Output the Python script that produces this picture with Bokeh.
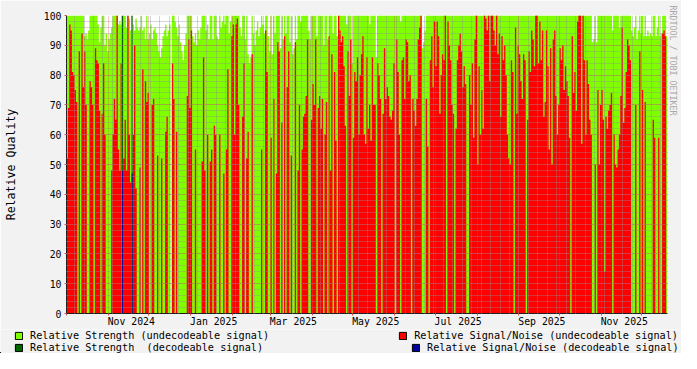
from datetime import date, timedelta
from bokeh.plotting import figure
from bokeh.layouts import column
from bokeh.models import Range1d, FixedTicker, Legend, LegendItem, Title
from bokeh.embed import file_html
from bokeh.resources import INLINE

START = date(2024, 10, 1)   # first day shown (left edge of the plot)
N_DAYS = 445

# ---- Relative Signal/Noise (undecodeable signal), one value per day ----
snr_oct_dec24 = [52, 69, 97, 95, 81, 80, 75, 71, 0, 88,
                 0, 94, 76, 88, 70, 0, 0, 78, 76, 70,
                 0, 89, 85, 84, 68, 0, 67, 84, 60, 0,
                 0, 0, 0, 48, 60, 72, 65, 100, 55, 48,
                 84, 0, 52, 65, 48, 100, 60, 44, 0, 60,
                 90, 42, 0, 0, 49, 0, 82, 0, 78, 71,
                 74, 0, 0, 70, 72, 0, 0, 53, 0, 0,
                 52, 0, 0, 61, 66]
snr_dec24_feb25 = [0, 0, 0, 84, 72, 0, 61, 0, 0, 0,
                   0, 0, 0, 0, 73, 92, 69, 95, 0, 0,
                   55, 0, 0, 0, 0, 51, 86, 48, 0, 60,
                   0, 51, 55, 0, 63, 60, 0, 0, 60, 0,
                   0, 47, 0, 55, 82, 0, 0, 93, 97, 60,
                   97, 99, 70, 0, 0, 66, 84, 0, 52, 61,
                   0, 0, 87, 0, 0, 0, 0, 0, 0, 55,
                   0, 0, 95, 81]
snr_feb_apr25 = [0, 0, 59, 0, 72, 0, 47, 91, 88, 0,
                 64, 0, 93, 0, 76, 88, 0, 53, 0, 0,
                 91, 0, 48, 70, 0, 55, 66, 67, 73, 92,
                 0, 0, 65, 77, 70, 92, 0, 69, 73, 62,
                 72, 0, 60, 71, 0, 93, 48, 87, 0, 81,
                 58, 0, 100, 95, 91, 93, 83, 63, 0, 88,
                 73, 92, 0, 59, 81, 78, 86, 60, 80, 87,
                 93, 60, 57, 86]
snr_apr_jun25 = [62, 70, 58, 86, 70, 70, 0, 84, 80, 72,
                 0, 67, 89, 72, 76, 73, 66, 65, 68, 84,
                 0, 92, 81, 60, 0, 85, 86, 72, 92, 91,
                 78, 80, 0, 72, 68, 63, 72, 92, 96, 100,
                 0, 0, 0, 72, 56, 0, 85, 93, 76, 98,
                 83, 98, 93, 67, 80, 87, 85, 100, 0, 98,
                 90, 85, 70, 67, 0, 62, 85, 90, 94, 88,
                 76, 83, 77, 0]
snr_jul_sep25 = [0, 80, 70, 84, 59, 92, 100, 50, 83, 60,
                 75, 62, 100, 99, 95, 100, 78, 100, 100, 95,
                 90, 100, 87, 94, 66, 93, 85, 90, 80, 60,
                 52, 50, 85, 81, 0, 96, 67, 90, 87, 78,
                 72, 87, 85, 0, 65, 88, 81, 95, 92, 83,
                 100, 100, 84, 98, 85, 95, 66, 71, 95, 83,
                 55, 89, 50, 92, 95, 73, 60, 70, 89, 85,
                 90, 75, 83, 78]
snr_sep_dec25 = [73, 59, 0, 93, 74, 81, 68, 98, 100, 100,
                 57, 100, 85, 60, 85, 77, 65, 60, 0, 0,
                 50, 0, 75, 50, 70, 75, 65, 14, 66, 62,
                 68, 70, 74, 0, 60, 50, 49, 55, 60, 73,
                 96, 64, 69, 81, 92, 90, 85, 0, 0, 0,
                 70, 0, 0, 88, 0, 75, 0, 71, 0, 0,
                 0, 0, 0, 65, 59, 0, 0, 59, 0, 0,
                 94, 95, 93, 0]

# ---- Relative Strength (undecodeable signal), one value per day ----
str_oct_dec24 = [100, 100, 100, 100, 100, 100, 100, 100, 100, 100,
                 100, 100, 100, 93, 94, 92, 95, 100, 100, 100,
                 100, 100, 100, 97, 91, 96, 100, 100, 90, 94,
                 88, 92, 94, 96, 100, 100, 100, 100, 97, 98,
                 97, 0, 100, 100, 96, 100, 99, 95, 0, 97,
                 95, 99, 96, 95, 96, 100, 95, 96, 92, 100,
                 92, 94, 97, 92, 95, 96, 94, 90, 88, 86,
                 89, 93, 95, 97, 93]
str_dec24_feb25 = [95, 97, 0, 100, 100, 98, 96, 93, 97, 91,
                   88, 85, 90, 94, 100, 100, 100, 100, 93, 91,
                   94, 90, 95, 92, 96, 100, 100, 100, 95, 97,
                   92, 100, 100, 92, 100, 100, 93, 92, 100, 96,
                   98, 100, 97, 100, 100, 94, 98, 100, 100, 100,
                   100, 100, 100, 96, 93, 100, 100, 92, 100, 87,
                   84, 86, 100, 94, 90, 95, 98, 93, 96, 100,
                   97, 94, 100, 100]
str_feb_apr25 = [93, 88, 100, 87, 100, 94, 100, 100, 100, 89,
                 100, 92, 100, 94, 100, 100, 91, 100, 87, 89,
                 100, 92, 100, 100, 98, 100, 100, 100, 100, 100,
                 95, 92, 100, 100, 100, 100, 93, 100, 100, 100,
                 100, 90, 100, 100, 92, 100, 100, 100, 94, 100,
                 100, 93, 100, 100, 100, 100, 100, 100, 97, 100,
                 100, 100, 84, 100, 100, 100, 100, 100, 100, 100,
                 100, 100, 100, 100]
str_apr_jun25 = [100, 97, 100, 100, 100, 100, 86, 100, 100, 100,
                 100, 100, 100, 100, 100, 100, 100, 100, 100, 100,
                 100, 100, 100, 100, 98, 100, 100, 100, 100, 100,
                 100, 100, 100, 100, 100, 100, 100, 100, 100, 100,
                 89, 91, 95, 100, 100, 100, 100, 100, 100, 100,
                 100, 100, 100, 100, 100, 100, 100, 100, 100, 100,
                 100, 100, 100, 100, 100, 100, 100, 100, 100, 100,
                 100, 100, 100, 100]
str_jul_sep25 = [100, 100, 100, 100, 100, 100, 100, 100, 100, 100,
                 100, 100, 100, 100, 100, 100, 100, 100, 100, 100,
                 100, 100, 100, 100, 100, 100, 100, 100, 100, 100,
                 100, 100, 100, 100, 100, 100, 100, 100, 100, 100,
                 100, 100, 100, 100, 100, 100, 100, 100, 100, 100,
                 100, 100, 100, 100, 100, 100, 100, 100, 100, 100,
                 100, 100, 100, 100, 100, 100, 100, 100, 100, 100,
                 100, 100, 100, 100]
str_sep_dec25 = [100, 100, 100, 100, 100, 100, 100, 100, 100, 100,
                 100, 100, 100, 100, 100, 100, 100, 100, 91, 92,
                 100, 91, 100, 100, 100, 100, 100, 100, 100, 100,
                 100, 100, 100, 95, 100, 100, 100, 100, 96, 100,
                 100, 100, 100, 100, 100, 100, 100, 95, 93, 96,
                 100, 92, 95, 100, 94, 100, 93, 100, 93, 95,
                 93, 94, 93, 100, 100, 93, 96, 100, 93, 94,
                 100, 100, 100, 93]

# ---- decodeable signal (only a few days) ----
dec_strength_days = [41, 48]
dec_strength_vals = [100, 100]
dec_snr_days = [41, 48]
dec_snr_vals = [48, 47]

# tick labels
label_months = [(2024, 11), (2025, 1), (2025, 3), (2025, 5), (2025, 7), (2025, 9), (2025, 11)]

snr = (snr_oct_dec24 + snr_dec24_feb25 + snr_feb_apr25 +
       snr_apr_jun25 + snr_jul_sep25 + snr_sep_dec25)
strength = (str_oct_dec24 + str_dec24_feb25 + str_feb_apr25 +
            str_apr_jun25 + str_jul_sep25 + str_sep_dec25)


def day_of(dt):
    return (dt - START).days


month_starts = []
y, m = 2024, 10
while True:
    dd = day_of(date(y, m, 1))
    if dd > N_DAYS:
        break
    month_starts.append(dd)
    m += 1
    if m > 12:
        m, y = 1, y + 1
week_starts = []
dt = START
while day_of(dt) <= N_DAYS:
    if dt.weekday() == 0:
        week_starts.append(day_of(dt))
    dt += timedelta(days=1)

label_pos = [day_of(date(yy, mm, 1)) + 17 for yy, mm in label_months]
label_txt = {pos: date(yy, mm, 1).strftime("%b %Y") for pos, (yy, mm) in zip(label_pos, label_months)}

FONT = "DejaVu Sans Mono"
BG = "#f2f2f2"

p = figure(width=681, height=329, output_backend="svg", toolbar_location=None,
           x_range=Range1d(0, N_DAYS), y_range=Range1d(0, 100),
           min_border_left=66, min_border_right=14, min_border_top=15, min_border_bottom=14)
p.frame_align = False
p.background_fill_color = "white"
p.border_fill_color = BG
p.outline_line_color = None


def step_xy(vals):
    xx, yy = [], []
    for i, v in enumerate(vals):
        xx += [i, i + 1]
        yy += [v, v]
    return xx, yy


C_G, C_R, C_DG, C_B = "#80ff00", "#ff0000", "#006400", "#0000a0"
for vals, col in ((strength, C_G), (snr, C_R)):
    xx, yy = step_xy(vals)
    p.varea(x=xx, y1=0, y2=yy, fill_color=col)
# decodeable days
p.vbar(x=[d + 0.5 for d in dec_strength_days], top=dec_strength_vals, width=1,
       fill_color=C_DG, line_color=None)
p.vbar(x=[d + 0.5 for d in dec_snr_days], top=dec_snr_vals, width=1,
       fill_color=C_B, line_color=None)

p.xgrid.ticker = FixedTicker(ticks=month_starts, minor_ticks=week_starts)
p.ygrid.ticker = FixedTicker(ticks=list(range(0, 101, 10)), minor_ticks=list(range(0, 101, 2)))
for g in (p.xgrid, p.ygrid):
    g.level = "guide"
    g.grid_line_color = "#de4f4f"
    g.grid_line_alpha = 0.6
    g.grid_line_dash = "1 1"
    g.minor_grid_line_color = "#8f8f8f"
    g.minor_grid_line_alpha = 0.75
    g.minor_grid_line_dash = "1 1"

xa = p.xaxis[0]
xa.ticker = FixedTicker(ticks=label_pos, minor_ticks=month_starts)
xa.major_label_overrides = label_txt
xa.major_tick_in = 0
xa.major_tick_out = 0
xa.minor_tick_in = 0
xa.minor_tick_out = 2
xa.minor_tick_line_color = "#de4f4f"
xa.axis_line_color = "#1f1f1f"
xa.major_label_text_font = FONT
xa.major_label_text_font_size = "9.8px"
xa.major_label_text_color = "black"
xa.major_label_standoff = 0

ya = p.yaxis[0]
ya.ticker = FixedTicker(ticks=list(range(0, 101, 10)))
ya.major_tick_in = 0
ya.major_tick_out = 2
ya.major_tick_line_color = "#de4f4f"
ya.minor_tick_out = 0
ya.minor_tick_in = 0
ya.axis_line_color = "#1f1f1f"
ya.major_label_text_font = FONT
ya.major_label_text_font_size = "9.8px"
ya.major_label_text_color = "black"
ya.major_label_standoff = 3
ya.axis_label = "Relative Quality"
ya.axis_label_text_font = FONT
ya.axis_label_text_font_size = "11.6px"
ya.axis_label_text_font_style = "normal"
ya.axis_label_text_color = "black"
ya.axis_label_standoff = 23

p.add_layout(Title(text="RRDTOOL / TOBI OETIKER", align="left", standoff=0, offset=-10,
                   text_font=FONT, text_font_size="8.3px", text_font_style="normal",
                   text_color="#a8a8a8"), "right")

# ---- legend strip ----
q = figure(width=681, height=24, output_backend="svg", toolbar_location=None,
           x_range=Range1d(0, 681), y_range=Range1d(0, 24),
           x_axis_location=None, y_axis_location=None, min_border=0)
q.frame_align = False
q.background_fill_color = BG
q.border_fill_color = BG
q.outline_line_color = None
q.xgrid.visible = False
q.ygrid.visible = False


def proxy(color):
    # legend key only: one bar placed outside the strip's visible range
    return q.vbar(x=[-100], top=[1], width=1, fill_color=color, line_color="black", line_width=1)


pg, pr, pdg, pb = proxy(C_G), proxy(C_R), proxy(C_DG), proxy(C_B)

LFS = 10.2  # legend font size in px
CW = 0.6021 * LFS
ROW_H = 1.17 * LFS


def make_legend(items, loc, spacing):
    return Legend(items=items, orientation="horizontal", location=loc, spacing=spacing,
                  padding=0, margin=0, glyph_width=9, glyph_height=9, label_standoff=7,
                  label_height=9, border_line_color=None, background_fill_alpha=0,
                  label_text_font=FONT, label_text_font_size=f"{LFS}px", label_text_color="black")


row1 = ["Relative Strength (undecodeable signal)", "Relative Signal/Noise (undecodeable signal)"]
row2 = ["Relative Strength  (decodeable signal)", "Relative Signal/Noise (decodeable signal)"]


def spacing_for(row, right_end=679, left_x0=14):
    w1 = 16 + CW * len(row[0])
    w2 = 16 + CW * len(row[1])
    return int(round(right_end - left_x0 - w1 - w2))


leg1 = make_legend([LegendItem(label=row1[0], renderers=[pg]),
                    LegendItem(label=row1[1], renderers=[pr])],
                   (14, round(24 - ROW_H, 2)), spacing_for(row1))
leg2 = make_legend([LegendItem(label=row2[0], renderers=[pdg]),
                    LegendItem(label=row2[1], renderers=[pb])],
                   (14, 0), spacing_for(row2))
q.add_layout(leg1)
q.add_layout(leg2)

layout = column(p, q, spacing=0)
open("out.html", "w").write(file_html(layout, INLINE))
